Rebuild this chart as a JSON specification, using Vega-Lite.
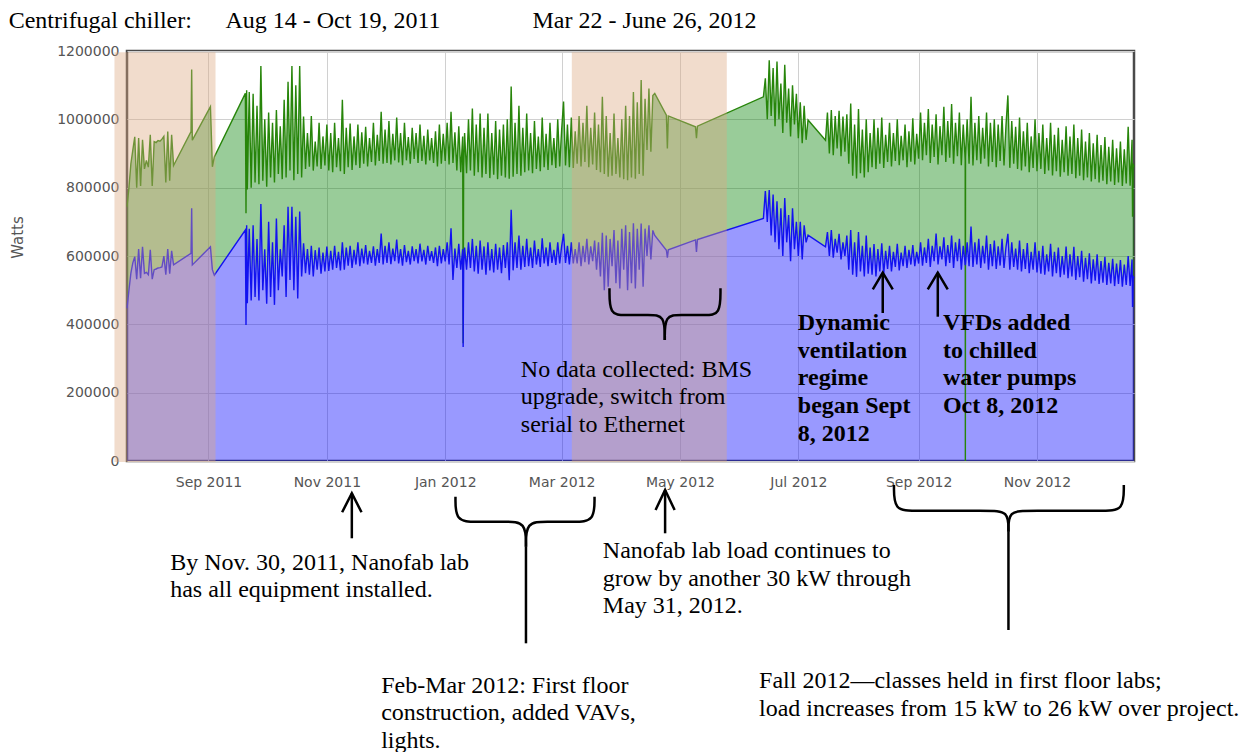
{
"$schema":"https://vega.github.io/schema/vega-lite/v6.json",
"width":1007,"height":410,
"autosize":{"type":"none"},
"padding":{"left":127,"top":51,"right":117,"bottom":291},
"background":"white",
"config":{"view":{"stroke":"#4a4a4a","strokeWidth":2.5},
 "axisY":{"grid":true,"gridColor":"#d0d0d0","ticks":false,"tickSize":0,"domain":false,"labelPadding":8,"labelFont":"DejaVu Sans","labelFontSize":14,"labelColor":"#555555","titleFont":"DejaVu Sans","titleFontSize":15,"titleFontWeight":"normal","titleColor":"#555555","titleX":-110,"titleY":186,"titleAngle":270,"titleAlign":"center","titleBaseline":"middle"},
 "axisX":{"grid":true,"gridColor":"#d0d0d0","ticks":false,"tickSize":0,"domain":false,"labelPadding":14,"labelFont":"DejaVu Sans","labelFontSize":14,"labelColor":"#555555","labelAngle":0,"labelFlush":false,"labelOverlap":false}},
"datasets":{"s":[
{"t":"2011-07-21","g":744000,"b":447000},
{"t":"2011-07-22","g":800000,"b":500000},
{"t":"2011-07-23","g":870000,"b":550000},
{"t":"2011-07-24","g":910000,"b":580000},
{"t":"2011-07-25","g":949000,"b":598000},
{"t":"2011-07-26","g":800000,"b":532000},
{"t":"2011-07-27","g":945000,"b":620000},
{"t":"2011-07-28","g":805000,"b":535000},
{"t":"2011-07-29","g":940000,"b":627000},
{"t":"2011-07-30","g":855000,"b":549000},
{"t":"2011-07-31","g":880000,"b":552000},
{"t":"2011-08-01","g":860000,"b":545000},
{"t":"2011-08-02","g":955000,"b":618000},
{"t":"2011-08-03","g":805000,"b":532000},
{"t":"2011-08-04","g":935000,"b":560000},
{"t":"2011-08-05","g":932000,"b":562000},
{"t":"2011-08-06","g":938000,"b":565000},
{"t":"2011-08-07","g":936000,"b":566000},
{"t":"2011-08-08","g":942000,"b":568000},
{"t":"2011-08-09","g":950000,"b":600000},
{"t":"2011-08-10","g":815000,"b":545000},
{"t":"2011-08-11","g":964000,"b":620000},
{"t":"2011-08-12","g":820000,"b":548000},
{"t":"2011-08-13","g":955000,"b":615000},
{"t":"2011-08-14","g":865000,"b":574000},
{"t":"2011-08-23","g":964000,"b":608000},
{"t":"2011-08-23T08:00Z","g":1146000,"b":740000},
{"t":"2011-08-23T16:00Z","g":939000,"b":574000},
{"t":"2011-09-02","g":1037000,"b":627000},
{"t":"2011-09-03","g":861000,"b":560000},
{"t":"2011-09-04","g":890000,"b":544000},
{"t":"2011-09-20","g":1076000,"b":676000},
{"t":"2011-09-20T08:00Z","g":725000,"b":398000},
{"t":"2011-09-20T16:00Z","g":1085000,"b":690000},
{"t":"2011-09-21","g":795000,"b":462000},
{"t":"2011-09-22","g":1080000,"b":680000},
{"t":"2011-09-23","g":800000,"b":470000},
{"t":"2011-09-24","g":1075000,"b":690000},
{"t":"2011-09-25","g":815000,"b":480000},
{"t":"2011-09-26","g":1040000,"b":650000},
{"t":"2011-09-27","g":810000,"b":470000},
{"t":"2011-09-28","g":1156000,"b":752000},
{"t":"2011-09-29","g":820000,"b":500000},
{"t":"2011-09-30","g":1000000,"b":620000},
{"t":"2011-10-01","g":803000,"b":460000},
{"t":"2011-10-02","g":1020000,"b":700000},
{"t":"2011-10-03","g":830000,"b":480000},
{"t":"2011-10-04","g":990000,"b":640000},
{"t":"2011-10-05","g":815000,"b":457000},
{"t":"2011-10-06","g":1027000,"b":710000},
{"t":"2011-10-07","g":840000,"b":500000},
{"t":"2011-10-08","g":980000,"b":620000},
{"t":"2011-10-09","g":825000,"b":540000},
{"t":"2011-10-10","g":1057000,"b":690000},
{"t":"2011-10-11","g":830000,"b":480000},
{"t":"2011-10-12","g":1110000,"b":744000},
{"t":"2011-10-13","g":850000,"b":530000},
{"t":"2011-10-14","g":1156000,"b":744000},
{"t":"2011-10-15","g":822000,"b":500000},
{"t":"2011-10-16","g":1100000,"b":715000},
{"t":"2011-10-17","g":840000,"b":476000},
{"t":"2011-10-18","g":1156000,"b":730000},
{"t":"2011-10-19","g":830000,"b":540000},
{"t":"2011-10-20","g":1008000,"b":637000},
{"t":"2011-10-21","g":855000,"b":550000},
{"t":"2011-10-22","g":960000,"b":620000},
{"t":"2011-10-23","g":861000,"b":545000},
{"t":"2011-10-24","g":1010000,"b":630000},
{"t":"2011-10-25","g":850000,"b":540000},
{"t":"2011-10-26","g":935000,"b":617000},
{"t":"2011-10-27","g":862000,"b":560000},
{"t":"2011-10-28","g":990000,"b":625000},
{"t":"2011-10-29","g":855000,"b":548000},
{"t":"2011-10-30","g":950000,"b":610000},
{"t":"2011-10-31","g":865000,"b":555000},
{"t":"2011-11-01","g":985000,"b":628000},
{"t":"2011-11-02","g":850000,"b":556000},
{"t":"2011-11-03","g":960000,"b":615000},
{"t":"2011-11-04","g":845000,"b":560000},
{"t":"2011-11-05","g":990000,"b":630000},
{"t":"2011-11-06","g":860000,"b":565000},
{"t":"2011-11-07","g":945000,"b":612000},
{"t":"2011-11-08","g":848000,"b":558000},
{"t":"2011-11-09","g":1057000,"b":640000},
{"t":"2011-11-10","g":840000,"b":560000},
{"t":"2011-11-11","g":975000,"b":625000},
{"t":"2011-11-12","g":860000,"b":572000},
{"t":"2011-11-13","g":988000,"b":630000},
{"t":"2011-11-14","g":852000,"b":565000},
{"t":"2011-11-15","g":950000,"b":618000},
{"t":"2011-11-16","g":866000,"b":575000},
{"t":"2011-11-17","g":985000,"b":640000},
{"t":"2011-11-18","g":858000,"b":570000},
{"t":"2011-11-19","g":962000,"b":622000},
{"t":"2011-11-20","g":870000,"b":578000},
{"t":"2011-11-21","g":978000,"b":632000},
{"t":"2011-11-22","g":862000,"b":575000},
{"t":"2011-11-23","g":945000,"b":615000},
{"t":"2011-11-24","g":875000,"b":580000},
{"t":"2011-11-25","g":990000,"b":628000},
{"t":"2011-11-26","g":865000,"b":572000},
{"t":"2011-11-27","g":955000,"b":620000},
{"t":"2011-11-28","g":878000,"b":580000},
{"t":"2011-11-29","g":1022000,"b":666000},
{"t":"2011-11-30","g":870000,"b":575000},
{"t":"2011-12-01","g":970000,"b":630000},
{"t":"2011-12-02","g":872000,"b":580000},
{"t":"2011-12-03","g":995000,"b":640000},
{"t":"2011-12-04","g":868000,"b":576000},
{"t":"2011-12-05","g":958000,"b":622000},
{"t":"2011-12-06","g":880000,"b":585000},
{"t":"2011-12-07","g":1005000,"b":648000},
{"t":"2011-12-08","g":874000,"b":578000},
{"t":"2011-12-09","g":960000,"b":620000},
{"t":"2011-12-10","g":866000,"b":572000},
{"t":"2011-12-11","g":990000,"b":632000},
{"t":"2011-12-12","g":880000,"b":582000},
{"t":"2011-12-13","g":948000,"b":615000},
{"t":"2011-12-14","g":870000,"b":575000},
{"t":"2011-12-15","g":975000,"b":628000},
{"t":"2011-12-16","g":884000,"b":585000},
{"t":"2011-12-17","g":960000,"b":620000},
{"t":"2011-12-18","g":872000,"b":578000},
{"t":"2011-12-19","g":985000,"b":636000},
{"t":"2011-12-20","g":878000,"b":584000},
{"t":"2011-12-21","g":952000,"b":618000},
{"t":"2011-12-22","g":868000,"b":575000},
{"t":"2011-12-23","g":970000,"b":630000},
{"t":"2011-12-24","g":880000,"b":586000},
{"t":"2011-12-25","g":945000,"b":614000},
{"t":"2011-12-26","g":872000,"b":580000},
{"t":"2011-12-27","g":965000,"b":625000},
{"t":"2011-12-28","g":862000,"b":570000},
{"t":"2011-12-29","g":985000,"b":630000},
{"t":"2011-12-30","g":870000,"b":578000},
{"t":"2011-12-31","g":958000,"b":620000},
{"t":"2012-01-01","g":878000,"b":584000},
{"t":"2012-01-02","g":990000,"b":640000},
{"t":"2012-01-03","g":868000,"b":575000},
{"t":"2012-01-04","g":1022000,"b":681000},
{"t":"2012-01-05","g":872000,"b":530000},
{"t":"2012-01-06","g":962000,"b":622000},
{"t":"2012-01-07","g":850000,"b":565000},
{"t":"2012-01-08","g":980000,"b":636000},
{"t":"2012-01-09","g":845000,"b":560000},
{"t":"2012-01-10","g":950000,"b":620000},
{"t":"2012-01-10T06:00Z","g":345000,"b":334000},
{"t":"2012-01-10T12:00Z","g":860000,"b":570000},
{"t":"2012-01-11","g":960000,"b":625000},
{"t":"2012-01-12","g":842000,"b":560000},
{"t":"2012-01-13","g":1000000,"b":640000},
{"t":"2012-01-14","g":850000,"b":565000},
{"t":"2012-01-15","g":1032000,"b":650000},
{"t":"2012-01-16","g":835000,"b":555000},
{"t":"2012-01-17","g":985000,"b":630000},
{"t":"2012-01-18","g":845000,"b":548000},
{"t":"2012-01-19","g":1017000,"b":645000},
{"t":"2012-01-20","g":830000,"b":560000},
{"t":"2012-01-21","g":975000,"b":628000},
{"t":"2012-01-22","g":840000,"b":545000},
{"t":"2012-01-23","g":1017000,"b":640000},
{"t":"2012-01-24","g":828000,"b":558000},
{"t":"2012-01-25","g":960000,"b":620000},
{"t":"2012-01-26","g":838000,"b":552000},
{"t":"2012-01-27","g":995000,"b":636000},
{"t":"2012-01-28","g":825000,"b":560000},
{"t":"2012-01-29","g":970000,"b":625000},
{"t":"2012-01-30","g":835000,"b":550000},
{"t":"2012-01-31","g":985000,"b":632000},
{"t":"2012-02-01","g":830000,"b":565000},
{"t":"2012-02-02","g":1000000,"b":640000},
{"t":"2012-02-03","g":826000,"b":529000},
{"t":"2012-02-04","g":1096000,"b":735000},
{"t":"2012-02-05","g":832000,"b":558000},
{"t":"2012-02-06","g":990000,"b":640000},
{"t":"2012-02-07","g":840000,"b":565000},
{"t":"2012-02-08","g":1040000,"b":660000},
{"t":"2012-02-09","g":835000,"b":560000},
{"t":"2012-02-10","g":975000,"b":630000},
{"t":"2012-02-11","g":845000,"b":568000},
{"t":"2012-02-12","g":1017000,"b":650000},
{"t":"2012-02-13","g":850000,"b":570000},
{"t":"2012-02-14","g":960000,"b":625000},
{"t":"2012-02-15","g":842000,"b":565000},
{"t":"2012-02-16","g":995000,"b":645000},
{"t":"2012-02-17","g":855000,"b":575000},
{"t":"2012-02-18","g":950000,"b":620000},
{"t":"2012-02-19","g":848000,"b":568000},
{"t":"2012-02-20","g":1005000,"b":652000},
{"t":"2012-02-21","g":860000,"b":578000},
{"t":"2012-02-22","g":958000,"b":625000},
{"t":"2012-02-23","g":852000,"b":570000},
{"t":"2012-02-24","g":990000,"b":640000},
{"t":"2012-02-25","g":866000,"b":580000},
{"t":"2012-02-26","g":945000,"b":618000},
{"t":"2012-02-27","g":858000,"b":574000},
{"t":"2012-02-28","g":1000000,"b":640000},
{"t":"2012-02-29","g":862000,"b":578000},
{"t":"2012-03-01","g":968000,"b":628000},
{"t":"2012-03-02","g":1052000,"b":665000},
{"t":"2012-03-03","g":865000,"b":580000},
{"t":"2012-03-04","g":985000,"b":630000},
{"t":"2012-03-05","g":860000,"b":575000},
{"t":"2012-03-06","g":1005000,"b":640000},
{"t":"2012-03-07","g":858000,"b":578000},
{"t":"2012-03-08","g":965000,"b":620000},
{"t":"2012-03-09","g":870000,"b":578000},
{"t":"2012-03-10","g":1010000,"b":640000},
{"t":"2012-03-11","g":862000,"b":570000},
{"t":"2012-03-12","g":990000,"b":630000},
{"t":"2012-03-13","g":875000,"b":582000},
{"t":"2012-03-14","g":1040000,"b":650000},
{"t":"2012-03-15","g":860000,"b":575000},
{"t":"2012-03-16","g":975000,"b":628000},
{"t":"2012-03-17","g":868000,"b":585000},
{"t":"2012-03-18","g":1020000,"b":645000},
{"t":"2012-03-19","g":852000,"b":560000},
{"t":"2012-03-20","g":985000,"b":640000},
{"t":"2012-03-21","g":845000,"b":540000},
{"t":"2012-03-22","g":1066000,"b":668000},
{"t":"2012-03-23","g":840000,"b":500000},
{"t":"2012-03-24","g":1010000,"b":660000},
{"t":"2012-03-25","g":832000,"b":510000},
{"t":"2012-03-26","g":960000,"b":650000},
{"t":"2012-03-27","g":835000,"b":570000},
{"t":"2012-03-28","g":1017000,"b":676000},
{"t":"2012-03-29","g":840000,"b":520000},
{"t":"2012-03-30","g":945000,"b":645000},
{"t":"2012-03-31","g":830000,"b":505000},
{"t":"2012-04-01","g":1000000,"b":680000},
{"t":"2012-04-02","g":825000,"b":560000},
{"t":"2012-04-03","g":1040000,"b":690000},
{"t":"2012-04-04","g":822000,"b":500000},
{"t":"2012-04-05","g":1010000,"b":670000},
{"t":"2012-04-06","g":830000,"b":520000},
{"t":"2012-04-07","g":1080000,"b":696000},
{"t":"2012-04-08","g":826000,"b":505000},
{"t":"2012-04-09","g":1050000,"b":680000},
{"t":"2012-04-10","g":840000,"b":560000},
{"t":"2012-04-11","g":1115000,"b":695000},
{"t":"2012-04-12","g":835000,"b":510000},
{"t":"2012-04-13","g":1060000,"b":680000},
{"t":"2012-04-14","g":910000,"b":600000},
{"t":"2012-04-15","g":1090000,"b":690000},
{"t":"2012-04-16","g":905000,"b":590000},
{"t":"2012-04-17","g":1070000,"b":675000},
{"t":"2012-04-18","g":1076000,"b":660000},
{"t":"2012-04-24","g":1012000,"b":617000},
{"t":"2012-04-24T12:00Z","g":915000,"b":595000},
{"t":"2012-04-25","g":1010000,"b":618000},
{"t":"2012-05-09","g":978000,"b":647000},
{"t":"2012-05-09T12:00Z","g":945000,"b":612000},
{"t":"2012-05-10","g":980000,"b":648000},
{"t":"2012-06-13","g":1066000,"b":710000},
{"t":"2012-06-14","g":1120000,"b":790000},
{"t":"2012-06-15","g":1000000,"b":700000},
{"t":"2012-06-16","g":1173000,"b":793000},
{"t":"2012-06-17","g":1010000,"b":660000},
{"t":"2012-06-18","g":1150000,"b":780000},
{"t":"2012-06-19","g":980000,"b":640000},
{"t":"2012-06-20","g":1169000,"b":760000},
{"t":"2012-06-21","g":1000000,"b":620000},
{"t":"2012-06-22","g":1105000,"b":740000},
{"t":"2012-06-23","g":960000,"b":600000},
{"t":"2012-06-24","g":1160000,"b":770000},
{"t":"2012-06-25","g":990000,"b":640000},
{"t":"2012-06-26","g":1090000,"b":720000},
{"t":"2012-06-27","g":950000,"b":585000},
{"t":"2012-06-28","g":1100000,"b":740000},
{"t":"2012-06-29","g":985000,"b":620000},
{"t":"2012-06-30","g":1075000,"b":700000},
{"t":"2012-07-01","g":945000,"b":600000},
{"t":"2012-07-02","g":1050000,"b":700000},
{"t":"2012-07-03","g":930000,"b":590000},
{"t":"2012-07-04","g":1040000,"b":690000},
{"t":"2012-07-05","g":940000,"b":640000},
{"t":"2012-07-06","g":998000,"b":661000},
{"t":"2012-07-15","g":939000,"b":627000},
{"t":"2012-07-16","g":1020000,"b":670000},
{"t":"2012-07-17","g":900000,"b":600000},
{"t":"2012-07-18","g":1027000,"b":676000},
{"t":"2012-07-19","g":895000,"b":595000},
{"t":"2012-07-20","g":1010000,"b":650000},
{"t":"2012-07-21","g":915000,"b":610000},
{"t":"2012-07-22","g":1025000,"b":665000},
{"t":"2012-07-23","g":892000,"b":590000},
{"t":"2012-07-24","g":1008000,"b":640000},
{"t":"2012-07-25","g":905000,"b":600000},
{"t":"2012-07-26","g":1015000,"b":660000},
{"t":"2012-07-27","g":870000,"b":560000},
{"t":"2012-07-28","g":1046000,"b":676000},
{"t":"2012-07-29","g":835000,"b":545000},
{"t":"2012-07-30","g":985000,"b":640000},
{"t":"2012-07-31","g":827000,"b":539000},
{"t":"2012-08-01","g":1030000,"b":670000},
{"t":"2012-08-02","g":842000,"b":555000},
{"t":"2012-08-03","g":970000,"b":630000},
{"t":"2012-08-04","g":830000,"b":540000},
{"t":"2012-08-05","g":1000000,"b":660000},
{"t":"2012-08-06","g":845000,"b":548000},
{"t":"2012-08-07","g":960000,"b":625000},
{"t":"2012-08-08","g":860000,"b":545000},
{"t":"2012-08-09","g":1000000,"b":635000},
{"t":"2012-08-10","g":855000,"b":540000},
{"t":"2012-08-11","g":975000,"b":620000},
{"t":"2012-08-12","g":870000,"b":555000},
{"t":"2012-08-13","g":1005000,"b":637000},
{"t":"2012-08-14","g":858000,"b":548000},
{"t":"2012-08-15","g":955000,"b":615000},
{"t":"2012-08-16","g":875000,"b":562000},
{"t":"2012-08-17","g":990000,"b":630000},
{"t":"2012-08-18","g":862000,"b":555000},
{"t":"2012-08-19","g":960000,"b":612000},
{"t":"2012-08-20","g":878000,"b":568000},
{"t":"2012-08-21","g":1000000,"b":636000},
{"t":"2012-08-22","g":866000,"b":558000},
{"t":"2012-08-23","g":952000,"b":610000},
{"t":"2012-08-24","g":880000,"b":570000},
{"t":"2012-08-25","g":985000,"b":630000},
{"t":"2012-08-26","g":860000,"b":565000},
{"t":"2012-08-27","g":965000,"b":618000},
{"t":"2012-08-28","g":876000,"b":575000},
{"t":"2012-08-29","g":1003000,"b":632000},
{"t":"2012-08-30","g":868000,"b":570000},
{"t":"2012-08-31","g":958000,"b":612000},
{"t":"2012-09-01","g":885000,"b":578000},
{"t":"2012-09-02","g":1020000,"b":640000},
{"t":"2012-09-03","g":880000,"b":572000},
{"t":"2012-09-04","g":990000,"b":625000},
{"t":"2012-09-05","g":895000,"b":580000},
{"t":"2012-09-06","g":1030000,"b":650000},
{"t":"2012-09-07","g":872000,"b":568000},
{"t":"2012-09-08","g":985000,"b":630000},
{"t":"2012-09-09","g":890000,"b":585000},
{"t":"2012-09-10","g":1015000,"b":666000},
{"t":"2012-09-11","g":868000,"b":575000},
{"t":"2012-09-12","g":980000,"b":628000},
{"t":"2012-09-13","g":895000,"b":590000},
{"t":"2012-09-14","g":1037000,"b":655000},
{"t":"2012-09-15","g":875000,"b":570000},
{"t":"2012-09-16","g":995000,"b":632000},
{"t":"2012-09-17","g":888000,"b":580000},
{"t":"2012-09-18","g":1045000,"b":660000},
{"t":"2012-09-19","g":870000,"b":565000},
{"t":"2012-09-20","g":990000,"b":640000},
{"t":"2012-09-21","g":892000,"b":585000},
{"t":"2012-09-22","g":1020000,"b":650000},
{"t":"2012-09-23","g":866000,"b":560000},
{"t":"2012-09-24","g":985000,"b":630000},
{"t":"2012-09-25","g":880000,"b":575000},
{"t":"2012-09-25T02:00Z","g":0,"b":575000},
{"t":"2012-09-25T04:00Z","g":890000,"b":578000},
{"t":"2012-09-26","g":1000000,"b":640000},
{"t":"2012-09-27","g":870000,"b":570000},
{"t":"2012-09-28","g":1066000,"b":686000},
{"t":"2012-09-29","g":865000,"b":568000},
{"t":"2012-09-30","g":990000,"b":640000},
{"t":"2012-10-01","g":880000,"b":575000},
{"t":"2012-10-02","g":1010000,"b":650000},
{"t":"2012-10-03","g":870000,"b":565000},
{"t":"2012-10-04","g":975000,"b":630000},
{"t":"2012-10-05","g":885000,"b":578000},
{"t":"2012-10-06","g":1020000,"b":660000},
{"t":"2012-10-07","g":862000,"b":560000},
{"t":"2012-10-08","g":990000,"b":635000},
{"t":"2012-10-09","g":875000,"b":570000},
{"t":"2012-10-10","g":1000000,"b":645000},
{"t":"2012-10-11","g":860000,"b":562000},
{"t":"2012-10-12","g":985000,"b":628000},
{"t":"2012-10-13","g":878000,"b":572000},
{"t":"2012-10-14","g":1010000,"b":650000},
{"t":"2012-10-15","g":865000,"b":565000},
{"t":"2012-10-16","g":980000,"b":625000},
{"t":"2012-10-17","g":1070000,"b":665000},
{"t":"2012-10-18","g":858000,"b":560000},
{"t":"2012-10-19","g":995000,"b":640000},
{"t":"2012-10-20","g":870000,"b":568000},
{"t":"2012-10-21","g":978000,"b":622000},
{"t":"2012-10-22","g":855000,"b":560000},
{"t":"2012-10-23","g":1005000,"b":645000},
{"t":"2012-10-24","g":850000,"b":555000},
{"t":"2012-10-25","g":965000,"b":620000},
{"t":"2012-10-26","g":862000,"b":562000},
{"t":"2012-10-27","g":990000,"b":638000},
{"t":"2012-10-28","g":845000,"b":550000},
{"t":"2012-10-29","g":950000,"b":612000},
{"t":"2012-10-30","g":858000,"b":560000},
{"t":"2012-10-31","g":1000000,"b":640000},
{"t":"2012-11-01","g":848000,"b":552000},
{"t":"2012-11-02","g":960000,"b":615000},
{"t":"2012-11-03","g":855000,"b":548000},
{"t":"2012-11-04","g":985000,"b":630000},
{"t":"2012-11-05","g":840000,"b":545000},
{"t":"2012-11-06","g":945000,"b":605000},
{"t":"2012-11-07","g":850000,"b":555000},
{"t":"2012-11-08","g":990000,"b":636000},
{"t":"2012-11-09","g":836000,"b":540000},
{"t":"2012-11-10","g":955000,"b":612000},
{"t":"2012-11-11","g":848000,"b":550000},
{"t":"2012-11-12","g":975000,"b":625000},
{"t":"2012-11-13","g":832000,"b":538000},
{"t":"2012-11-14","g":940000,"b":600000},
{"t":"2012-11-15","g":845000,"b":545000},
{"t":"2012-11-16","g":980000,"b":628000},
{"t":"2012-11-17","g":835000,"b":535000},
{"t":"2012-11-18","g":950000,"b":605000},
{"t":"2012-11-19","g":840000,"b":540000},
{"t":"2012-11-20","g":985000,"b":627000},
{"t":"2012-11-21","g":828000,"b":530000},
{"t":"2012-11-22","g":945000,"b":600000},
{"t":"2012-11-23","g":835000,"b":538000},
{"t":"2012-11-24","g":970000,"b":615000},
{"t":"2012-11-25","g":822000,"b":525000},
{"t":"2012-11-26","g":935000,"b":595000},
{"t":"2012-11-27","g":830000,"b":532000},
{"t":"2012-11-28","g":960000,"b":608000},
{"t":"2012-11-29","g":818000,"b":520000},
{"t":"2012-11-30","g":930000,"b":590000},
{"t":"2012-12-01","g":825000,"b":528000},
{"t":"2012-12-02","g":955000,"b":605000},
{"t":"2012-12-03","g":815000,"b":518000},
{"t":"2012-12-04","g":925000,"b":585000},
{"t":"2012-12-05","g":820000,"b":522000},
{"t":"2012-12-06","g":948000,"b":598000},
{"t":"2012-12-07","g":810000,"b":515000},
{"t":"2012-12-08","g":920000,"b":580000},
{"t":"2012-12-09","g":818000,"b":520000},
{"t":"2012-12-10","g":940000,"b":592000},
{"t":"2012-12-11","g":808000,"b":512000},
{"t":"2012-12-12","g":915000,"b":578000},
{"t":"2012-12-13","g":815000,"b":518000},
{"t":"2012-12-14","g":935000,"b":588000},
{"t":"2012-12-15","g":805000,"b":510000},
{"t":"2012-12-16","g":912000,"b":575000},
{"t":"2012-12-17","g":812000,"b":515000},
{"t":"2012-12-18","g":978000,"b":600000},
{"t":"2012-12-19","g":806000,"b":512000},
{"t":"2012-12-20","g":940000,"b":590000},
{"t":"2012-12-20T06:00Z","g":715000,"b":451000},
{"t":"2012-12-20T12:00Z","g":870000,"b":540000},
{"t":"2012-12-21","g":860000,"b":535000}
]},
"encoding":{"x":{"field":"t","type":"temporal","scale":{"type":"utc","domain":[1311206400000,1356048000000],"nice":false},
 "axis":{"title":null,"format":"%b %Y","tickCount":{"interval":"month","step":2}}}},
"layer":[
{"data":{"name":"s"},"mark":{"type":"area","color":"#008000","opacity":0.4},
 "encoding":{"y":{"field":"g","type":"quantitative","scale":{"domain":[0,1200000],"nice":false,"zero":false},
  "axis":{"title":"Watts","format":"d","values":[0,200000,400000,600000,800000,1000000,1200000]}},
  "y2":{"field":"b"}}},
{"data":{"name":"s"},"mark":{"type":"area","color":"#0000ff","opacity":0.4},
 "encoding":{"y":{"field":"b","type":"quantitative","scale":{"domain":[0,1200000],"nice":false,"zero":false},"axis":{"title":"Watts","format":"d","values":[0,200000,400000,600000,800000,1000000,1200000]}},"y2":{"datum":0}}},
{"data":{"name":"s"},"mark":{"type":"line","color":"#27850a","strokeWidth":1.4},
 "encoding":{"y":{"field":"g","type":"quantitative","scale":{"domain":[0,1200000],"nice":false,"zero":false},"axis":{"title":"Watts","format":"d","values":[0,200000,400000,600000,800000,1000000,1200000]}}}},
{"data":{"name":"s"},"mark":{"type":"line","color":"#1212f0","strokeWidth":1.4},
 "encoding":{"y":{"field":"b","type":"quantitative","scale":{"domain":[0,1200000],"nice":false,"zero":false},"axis":{"title":"Watts","format":"d","values":[0,200000,400000,600000,800000,1000000,1200000]}}}},
{"data":{"values":[
 {"t":"2011-07-14T13:00Z","t2":"2011-09-04T15:00Z","v":1196000,"v2":-3000},
 {"t":"2012-03-06T06:00Z","t2":"2012-05-25T03:00Z","v":1196000,"v2":-3000}],
 "format":{"parse":{"t":"date","t2":"date"}}},
 "mark":{"type":"rect","color":"#dca880","opacity":0.4},
 "encoding":{"x2":{"field":"t2"},"y":{"field":"v","type":"quantitative","scale":{"domain":[0,1200000],"nice":false,"zero":false},"axis":{"title":"Watts","format":"d","values":[0,200000,400000,600000,800000,1000000,1200000]}},"y2":{"field":"v2"}}},
{"data":{"values":[
 {"k":"a1s","o":0,"t":"2011-11-13T21:00Z","v":-94500},
 {"k":"a1s","o":1,"t":"2011-11-13T21:00Z","v":-226200},
 {"k":"a1h","o":0,"t":"2011-11-08T21:00Z","v":-150100},
 {"k":"a1h","o":1,"t":"2011-11-13T21:00Z","v":-94500},
 {"k":"a1h","o":2,"t":"2011-11-18T21:00Z","v":-150100},
 {"k":"a2s","o":0,"t":"2012-04-23T08:00Z","v":-84900},
 {"k":"a2s","o":1,"t":"2012-04-23T08:00Z","v":-211600},
 {"k":"a2h","o":0,"t":"2012-04-18T10:00Z","v":-143400},
 {"k":"a2h","o":1,"t":"2012-04-23T08:00Z","v":-84900},
 {"k":"a2h","o":2,"t":"2012-04-28T06:00Z","v":-143400},
 {"k":"a3s","o":0,"t":"2012-08-13T12:00Z","v":551100},
 {"k":"a3s","o":1,"t":"2012-08-13T12:00Z","v":433200},
 {"k":"a3h","o":0,"t":"2012-08-08T09:00Z","v":502200},
 {"k":"a3h","o":1,"t":"2012-08-13T12:00Z","v":551100},
 {"k":"a3h","o":2,"t":"2012-08-18T16:00Z","v":502200},
 {"k":"a4s","o":0,"t":"2012-09-10T21:00Z","v":551100},
 {"k":"a4s","o":1,"t":"2012-09-10T21:00Z","v":422300},
 {"k":"a4h","o":0,"t":"2012-09-05T17:00Z","v":502200},
 {"k":"a4h","o":1,"t":"2012-09-10T21:00Z","v":551100},
 {"k":"a4h","o":2,"t":"2012-09-16T00:00Z","v":502200},
 {"k":"s1","o":0,"t":"2012-02-11T15:00Z","v":-250800},
 {"k":"s1","o":1,"t":"2012-02-11T15:00Z","v":-533600},
 {"k":"s3","o":0,"t":"2012-10-17T07:00Z","v":-206900},
 {"k":"s3","o":1,"t":"2012-10-17T07:00Z","v":-494600}]},
 "mark":{"type":"line","color":"#000000","strokeWidth":2.5},
 "encoding":{"y":{"field":"v","type":"quantitative","scale":{"domain":[0,1200000],"nice":false,"zero":false},"axis":{"title":"Watts","format":"d","values":[0,200000,400000,600000,800000,1000000,1200000]}},"detail":{"field":"k"},"order":{"field":"o"}}},
{"data":{"values":[
 {"k":"b1l","o":0,"t":"2012-01-06T07:00Z","v":-104500},
 {"k":"b1l","o":1,"t":"2012-01-06T07:00Z","v":-177700},
 {"k":"b1l","o":2,"t":"2012-01-16T15:00Z","v":-177700},
 {"k":"b1l","o":3,"t":"2012-02-01T08:00Z","v":-177700},
 {"k":"b1l","o":4,"t":"2012-02-11T15:00Z","v":-177700},
 {"k":"b1l","o":5,"t":"2012-02-11T15:00Z","v":-250800},
 {"k":"b1r","o":0,"t":"2012-03-17T23:00Z","v":-104500},
 {"k":"b1r","o":1,"t":"2012-03-17T23:00Z","v":-177700},
 {"k":"b1r","o":2,"t":"2012-03-07T15:00Z","v":-177700},
 {"k":"b1r","o":3,"t":"2012-02-21T23:00Z","v":-177700},
 {"k":"b1r","o":4,"t":"2012-02-11T15:00Z","v":-177700},
 {"k":"b1r","o":5,"t":"2012-02-11T15:00Z","v":-250800},
 {"k":"b2l","o":0,"t":"2012-03-25T16:00Z","v":505500},
 {"k":"b2l","o":1,"t":"2012-03-25T16:00Z","v":427300},
 {"k":"b2l","o":2,"t":"2012-04-02T10:00Z","v":427300},
 {"k":"b2l","o":3,"t":"2012-04-15T07:00Z","v":427300},
 {"k":"b2l","o":4,"t":"2012-04-23T04:00Z","v":427300},
 {"k":"b2l","o":5,"t":"2012-04-23T04:00Z","v":354100},
 {"k":"b2r","o":0,"t":"2012-05-21T21:00Z","v":505500},
 {"k":"b2r","o":1,"t":"2012-05-21T21:00Z","v":427300},
 {"k":"b2r","o":2,"t":"2012-05-14T04:00Z","v":427300},
 {"k":"b2r","o":3,"t":"2012-05-01T00:00Z","v":427300},
 {"k":"b2r","o":4,"t":"2012-04-23T04:00Z","v":427300},
 {"k":"b2r","o":5,"t":"2012-04-23T04:00Z","v":354100},
 {"k":"b3l","o":0,"t":"2012-08-19T07:00Z","v":-70200},
 {"k":"b3l","o":1,"t":"2012-08-19T07:00Z","v":-145500},
 {"k":"b3l","o":2,"t":"2012-08-29T15:00Z","v":-145500},
 {"k":"b3l","o":3,"t":"2012-10-07T00:00Z","v":-145500},
 {"k":"b3l","o":4,"t":"2012-10-17T07:00Z","v":-145500},
 {"k":"b3l","o":5,"t":"2012-10-17T07:00Z","v":-206900},
 {"k":"b3r","o":0,"t":"2012-12-15T18:00Z","v":-70200},
 {"k":"b3r","o":1,"t":"2012-12-15T18:00Z","v":-145500},
 {"k":"b3r","o":2,"t":"2012-12-05T10:00Z","v":-145500},
 {"k":"b3r","o":3,"t":"2012-10-27T15:00Z","v":-145500},
 {"k":"b3r","o":4,"t":"2012-10-17T07:00Z","v":-145500},
 {"k":"b3r","o":5,"t":"2012-10-17T07:00Z","v":-206900}]},
 "mark":{"type":"line","color":"#000000","strokeWidth":2.5,"interpolate":"basis"},
 "encoding":{"y":{"field":"v","type":"quantitative","scale":{"domain":[0,1200000],"nice":false,"zero":false},"axis":{"title":"Watts","format":"d","values":[0,200000,400000,600000,800000,1000000,1200000]}},"detail":{"field":"k"},"order":{"field":"o"}}},
{"data":{"values":[
 {"t":"2011-05-21","v":1267000,"s":"Centrifugal chiller:"},
 {"t":"2011-09-09T18:00Z","v":1267000,"s":"Aug 14 - Oct 19, 2011"},
 {"t":"2012-02-15","v":1267000,"s":"Mar 22 - June 26, 2012"},
 {"t":"2011-08-12T06:00Z","v":-319000,"s":"By Nov. 30, 2011, Nanofab lab\nhas all equipment installed."},
 {"t":"2011-11-29","v":-678000,"s":"Feb-Mar 2012: First floor\nconstruction, added VAVs,\nlights."},
 {"t":"2012-03-22T06:00Z","v":-285000,"s":"Nanofab lab load continues to\ngrow by another 30 kW through\nMay  31, 2012."},
 {"t":"2012-06-10T18:00Z","v":-665000,"s":"Fall 2012—classes held in first floor labs;\nload increases from 15 kW to 26 kW over project."},
 {"t":"2012-02-09","v":246700,"s":"No data collected: BMS\nupgrade, switch from\nserial to Ethernet"}]},
 "mark":{"type":"text","font":"Liberation Serif","fontSize":24,"align":"left","baseline":"alphabetic","lineBreak":"\n","lineHeight":27.5,"color":"#000000"},
 "encoding":{"y":{"field":"v","type":"quantitative","scale":{"domain":[0,1200000],"nice":false,"zero":false},"axis":{"title":"Watts","format":"d","values":[0,200000,400000,600000,800000,1000000,1200000]}},"text":{"field":"s"}}},
{"data":{"values":[
 {"t":"2012-06-30T18:00Z","v":383400,"s":"Dynamic\nventilation\nregime\nbegan Sept\n8, 2012"},
 {"t":"2012-09-13T12:00Z","v":383400,"s":"VFDs added\nto chilled\nwater pumps\nOct 8, 2012"}]},
 "mark":{"type":"text","font":"Liberation Serif","fontSize":24,"fontWeight":"bold","align":"left","baseline":"alphabetic","lineBreak":"\n","lineHeight":27.7,"color":"#000000"},
 "encoding":{"y":{"field":"v","type":"quantitative","scale":{"domain":[0,1200000],"nice":false,"zero":false},"axis":{"title":"Watts","format":"d","values":[0,200000,400000,600000,800000,1000000,1200000]}},"text":{"field":"s"}}}
]
}
